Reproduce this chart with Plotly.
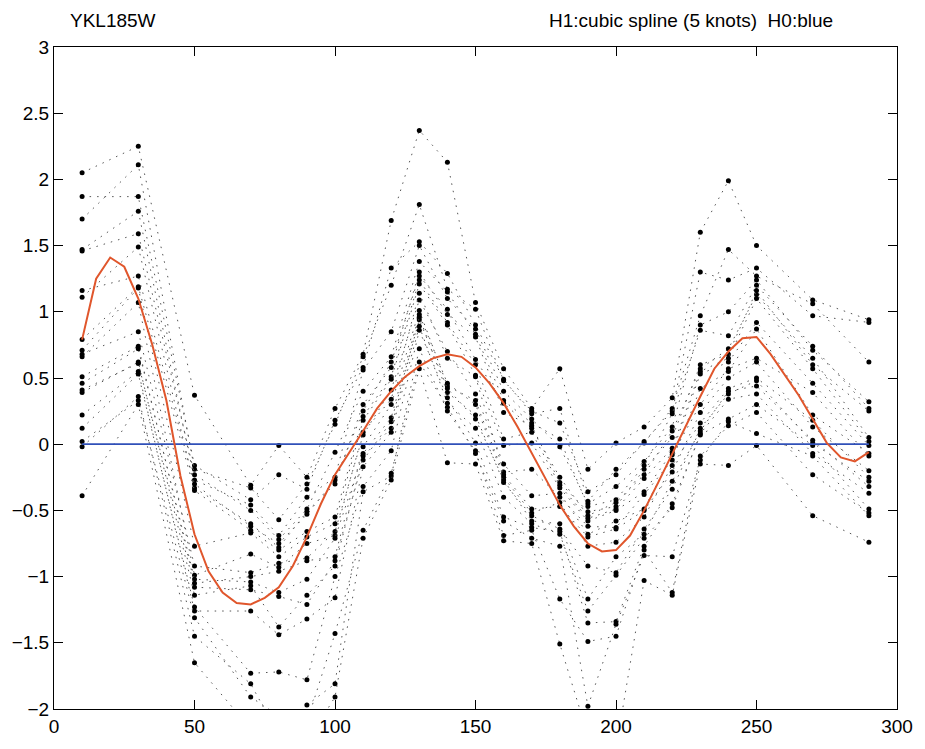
import plotly.graph_objects as go

# sampling times (minutes)
times = [10, 30, 50, 70, 80, 90, 100, 110, 120, 130, 140, 150,
         160, 170, 180, 190, 200, 210, 220, 230, 240, 250, 270, 290]

# log-ratios of the 20 replicate profiles at each time, same profile order in every list
t010 = [2.05, 1.87, 1.70, 1.47, 1.46, 1.16, 1.11, 0.79, 0.71, 0.68, 0.66, 0.51, 0.46, 0.41, 0.39, 0.22, 0.12, 0.02, -0.02, -0.39]
t030 = [2.25, 1.87, 2.11, 1.76, 1.59, 1.27, 1.49, 1.19, 1.18, 0.85, 1.07, 0.74, 0.72, 0.61, 0.62, 0.55, 0.53, 0.33, 0.36, 0.30]
t050 = [0.37, -0.16, -0.19, -0.27, -0.23, -0.30, -0.33, -0.35, -0.77, -0.92, -0.99, -1.05, -1.02, -1.08, -1.14, -1.26, -1.23, -1.31, -1.45, -1.65]
t070 = [-0.31, -0.42, -0.33, -0.46, -0.50, -0.62, -0.60, -0.65, -0.67, -0.97, -0.83, -1.00, -1.04, -1.10, -1.07, -1.26, -1.73, -1.91, -1.81, -2.15]
t080 = [-0.01, -0.23, -0.57, -0.69, -0.72, -0.75, -0.78, -0.80, -0.85, -0.90, -0.93, -0.96, -1.12, -1.15, -1.38, -1.44, -1.72, -2.05, -2.20, -2.30]
t090 = [-0.25, -0.34, -0.30, -0.40, -0.49, -0.53, -0.51, -0.66, -0.70, -0.86, -0.75, -0.88, -1.02, -1.21, -1.14, -1.32, -1.78, -2.10, -1.97, -2.25]
t100 = [0.27, 0.18, 0.15, -0.25, -0.06, -0.27, -0.30, -0.55, -0.60, -0.66, -0.69, -0.85, -0.71, -0.88, -0.92, -1.16, -1.00, -1.43, -1.81, -1.91]
t110 = [0.68, 0.58, 0.66, 0.56, 0.40, 0.25, 0.30, 0.21, 0.18, 0.07, 0.09, -0.02, -0.07, -0.12, -0.09, -0.17, -0.32, -0.65, -0.36, -0.71]
t120 = [1.69, 1.33, 1.20, 0.85, 0.66, 0.62, 0.58, 0.51, 0.49, 0.41, 0.34, 0.30, 0.20, 0.17, 0.12, 0.09, -0.05, -0.22, -0.24, -0.27]
t130 = [2.37, 1.53, 1.81, 1.50, 1.38, 1.27, 1.30, 1.24, 1.21, 1.09, 1.14, 1.01, 0.98, 0.94, 0.96, 0.89, 0.86, 0.62, 0.72, 0.57]
t140 = [2.13, 1.29, 1.17, 1.10, 1.15, 1.02, 0.98, 0.92, 0.90, 0.70, 0.65, 0.44, 0.46, 0.42, 0.39, 0.31, 0.35, 0.28, 0.25, -0.14]
t150 = [1.07, 0.90, 1.02, 0.87, 0.83, 0.64, 0.81, 0.60, 0.52, 0.38, 0.51, 0.33, 0.30, 0.19, 0.22, 0.12, 0.01, -0.07, -0.05, -0.15]
t160 = [0.57, 0.49, 0.48, 0.40, 0.33, 0.31, 0.24, 0.04, -0.01, -0.15, -0.21, -0.23, -0.25, -0.27, -0.29, -0.40, -0.55, -0.58, -0.69, -0.73]
t170 = [0.27, 0.23, 0.25, 0.19, 0.16, 0.12, 0.14, 0.09, 0.01, -0.39, -0.19, -0.49, -0.52, -0.58, -0.54, -0.60, -0.63, -0.71, -0.65, -0.75]
t180 = [0.57, 0.27, 0.16, -0.02, 0.04, -0.25, -0.29, -0.31, -0.33, -0.37, -0.40, -0.47, -0.44, -0.60, -0.64, -0.68, -0.66, -0.77, -1.17, -1.51]
t190 = [-0.19, -0.43, -0.36, -0.45, -0.47, -0.54, -0.51, -0.56, -0.58, -0.68, -0.62, -0.70, -0.77, -1.17, -0.92, -1.26, -1.35, -1.98, -1.49, -2.20]
t200 = [0.01, -0.19, -0.23, -0.32, -0.42, -0.44, -0.47, -0.49, -0.50, -0.58, -0.63, -0.64, -0.74, -0.85, -0.97, -0.99, -1.34, -1.36, -1.45, -2.30]
t210 = [0.13, 0.01, 0.02, -0.13, -0.16, -0.23, -0.19, -0.26, -0.36, -0.49, -0.38, -0.50, -0.55, -0.68, -0.64, -0.71, -0.77, -0.84, -0.80, -1.03]
t220 = [0.35, 0.27, 0.25, 0.13, 0.23, 0.10, 0.05, -0.03, -0.06, -0.08, -0.12, -0.21, -0.16, -0.28, -0.34, -0.48, -0.45, -0.85, -1.12, -1.14]
t230 = [1.60, 0.97, 1.30, 0.90, 0.86, 0.57, 0.60, 0.55, 0.53, 0.30, 0.42, 0.24, 0.16, 0.10, 0.12, 0.08, 0.07, -0.12, -0.09, -0.15]
t240 = [1.99, 1.47, 1.24, 1.00, 0.82, 0.72, 0.68, 0.65, 0.62, 0.57, 0.55, 0.50, 0.42, 0.40, 0.38, 0.34, 0.19, 0.17, 0.14, -0.16]
t250 = [1.50, 1.27, 1.33, 1.24, 1.20, 1.13, 1.16, 1.10, 0.92, 0.65, 0.87, 0.62, 0.50, 0.44, 0.48, 0.38, 0.30, 0.08, 0.24, -0.01]
t270 = [1.09, 1.06, 0.97, 0.71, 0.74, 0.65, 0.60, 0.57, 0.46, 0.39, 0.22, 0.13, 0.18, 0.03, 0.01, -0.07, -0.01, -0.09, -0.23, -0.54]
t290 = [0.94, 0.62, 0.92, 0.32, 0.27, 0.05, 0.25, 0.02, -0.01, -0.09, -0.07, -0.20, -0.25, -0.32, -0.28, -0.37, -0.49, -0.54, -0.52, -0.74]

columns = [t010, t030, t050, t070, t080, t090, t100, t110, t120, t130, t140, t150,
           t160, t170, t180, t190, t200, t210, t220, t230, t240, t250, t270, t290]

# H1: cubic spline fit (5 knots), evaluated every 5 minutes
fit_x = [10, 15, 20, 25, 30, 35, 40, 45, 50, 55, 60, 65, 70, 75, 80, 85, 90, 95,
         100, 105, 110, 115, 120, 125, 130, 135, 140, 145, 150, 155, 160, 165,
         170, 175, 180, 185, 190, 195, 200, 205, 210, 215, 220, 225, 230, 235,
         240, 245, 250, 255, 260, 265, 270, 275, 280, 285, 290]
fit_y = [0.79, 1.25, 1.41, 1.34, 1.10, 0.75, 0.33, -0.24, -0.68, -0.96, -1.12,
         -1.20, -1.21, -1.16, -1.08, -0.92, -0.70, -0.45, -0.23, -0.07, 0.10,
         0.27, 0.40, 0.51, 0.59, 0.65, 0.68, 0.66, 0.58, 0.46, 0.31, 0.13,
         -0.07, -0.26, -0.46, -0.62, -0.75, -0.81, -0.80, -0.69, -0.50, -0.29,
         -0.07, 0.14, 0.36, 0.57, 0.70, 0.80, 0.81, 0.68, 0.52, 0.37, 0.19,
         0.01, -0.10, -0.13, -0.06]

# H0: flat profile
null_x = [10, 290]
null_y = [0.0, 0.0]

gene_name = "YKL185W"
model_note = "H1:cubic spline (5 knots) \u00a0H0:blue"

FONT = "Liberation Sans, Arial, Helvetica, sans-serif"

fig = go.Figure()

for i in range(len(t010)):
    fig.add_trace(go.Scatter(
        x=times,
        y=[col[i] for col in columns],
        mode="lines+markers",
        line=dict(color="#555555", width=1, dash="1.5px,6px"),
        marker=dict(color="black", size=5),
        showlegend=False,
        hoverinfo="skip",
    ))

fig.add_trace(go.Scatter(
    x=null_x, y=null_y, mode="lines",
    line=dict(color="#3050b8", width=1.8),
    showlegend=False,
))
fig.add_trace(go.Scatter(
    x=fit_x, y=fit_y, mode="lines",
    line=dict(color="#e0562c", width=2),
    showlegend=False,
))

axis_common = dict(
    showgrid=False, zeroline=False,
    showline=True, linecolor="black", linewidth=1,
    mirror="ticks", ticks="inside", ticklen=9, tickcolor="black", tickwidth=1,
    tickfont=dict(family=FONT, size=19, color="black"),
)

fig.update_xaxes(range=[0, 300], tickmode="array",
                 tickvals=[0, 50, 100, 150, 200, 250, 300], **axis_common)
fig.update_yaxes(range=[-2, 3], tickmode="array",
                 tickvals=[-2, -1.5, -1, -0.5, 0, 0.5, 1, 1.5, 2, 2.5, 3],
                 ticktext=["\u22122", "\u22121.5", "\u22121", "\u22120.5", "0",
                           "0.5", "1", "1.5", "2", "2.5", "3"],
                 **axis_common)

fig.add_annotation(text=gene_name, xref="paper", yref="paper",
                   x=(68 - 54) / 854, y=(718 - 20) / 671,
                   xanchor="left", yanchor="middle", showarrow=False,
                   font=dict(family=FONT, size=19, color="black"))
fig.add_annotation(text=model_note, xref="paper", yref="paper",
                   x=(553 - 54) / 854, y=(718 - 20) / 671,
                   xanchor="left", yanchor="middle", showarrow=False,
                   font=dict(family=FONT, size=19, color="black"))

fig.update_layout(
    width=925, height=749,
    margin=dict(l=54, r=17, t=47, b=31, pad=0),
    paper_bgcolor="white", plot_bgcolor="white",
    font=dict(family=FONT, size=19, color="black"),
)

fig.write_html("out.html")
